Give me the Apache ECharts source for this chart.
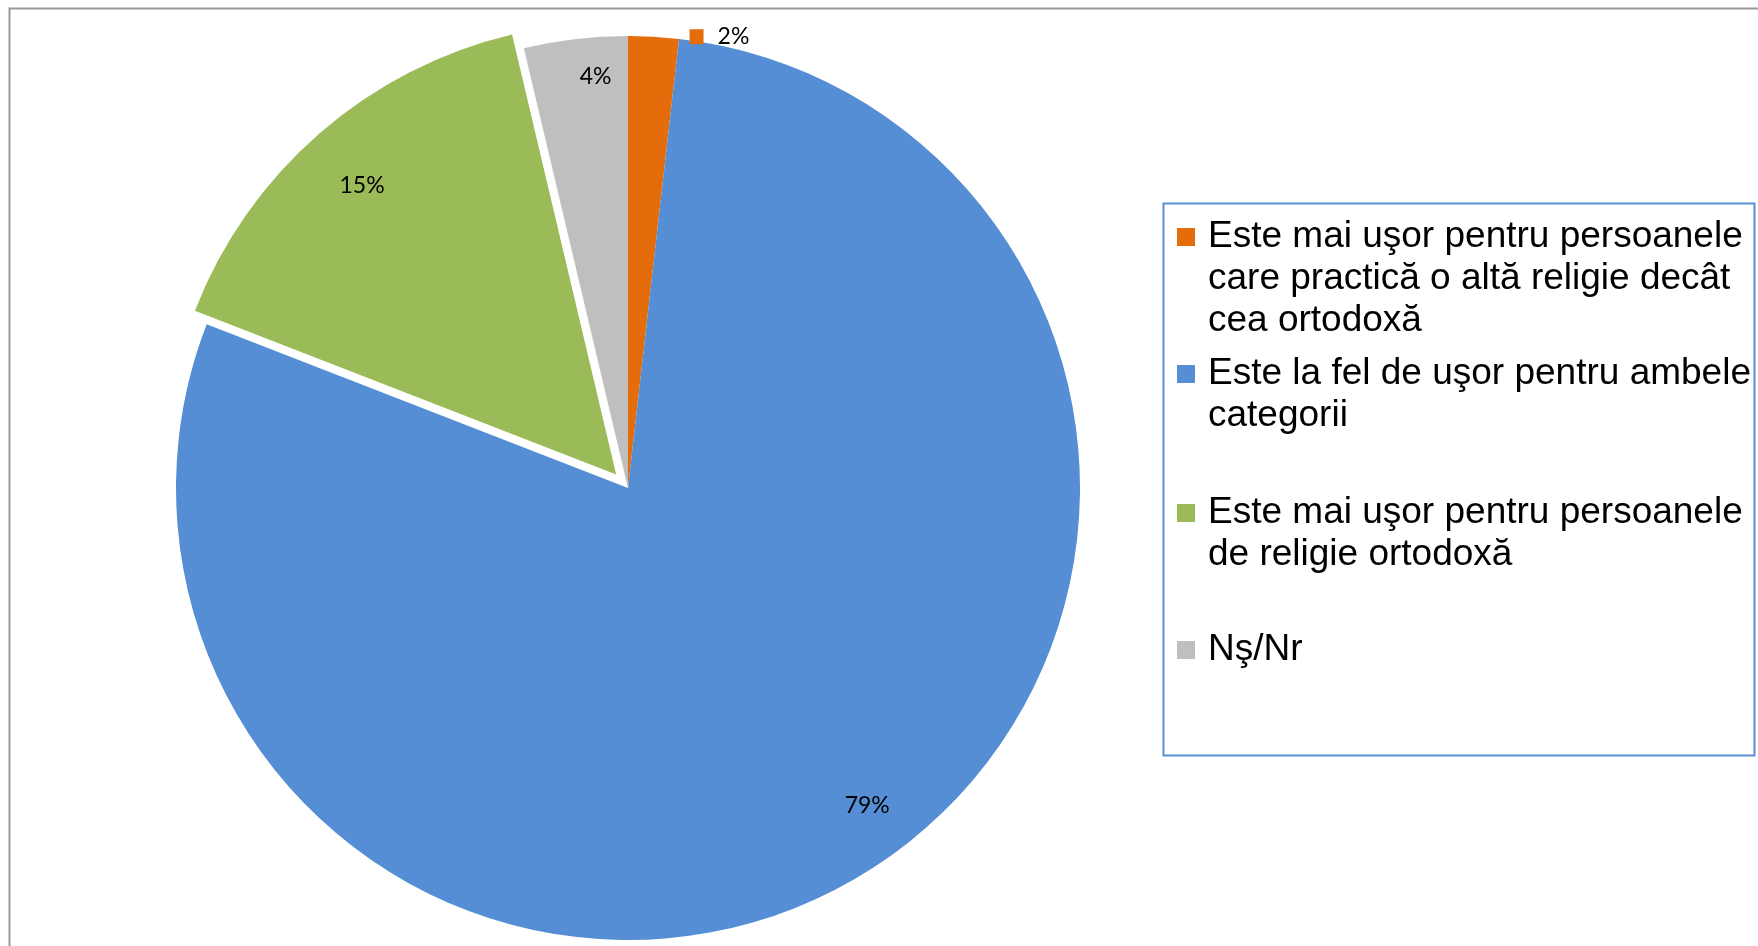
<!DOCTYPE html>
<html><head><meta charset="utf-8">
<script src="https://cdn.jsdelivr.net/npm/echarts@6/dist/echarts.min.js"></script>
<style>html,body{margin:0;padding:0;background:#fff}#c{width:1758px;height:946px}</style>
</head><body><div id="c"></div>
<script>
const categories = [
  'Este mai uşor pentru persoanele care practică o altă religie decât cea ortodoxă',
  'Este la fel de uşor pentru ambele categorii',
  'Este mai uşor pentru persoanele de religie ortodoxă',
  'Nş/Nr'
];
const legendLines = [
  ['Este mai uşor pentru persoanele', 'care practică o altă religie decât', 'cea ortodoxă'],
  ['Este la fel de uşor pentru ambele', 'categorii'],
  ['Este mai uşor pentru persoanele', 'de religie ortodoxă'],
  ['Nş/Nr']
];
const values = [1.8, 79.1, 15.4, 3.7];
const explodedIndex = 2;

const colors = ['#E46C0A', '#558ED5', '#9BBB59', '#BFBFBF'];
const CX = 628, CY = 488, R = 452;
const LH = 42;
const legendFirstLineY = [237, 374, 513, 650];
const labelNudge = [[0, 0], [32, -25], [9, 13], [14, -13]];

const pct = p => Math.round(p.percent) + '%';
const labelFont = { fontFamily: 'Lato', fontSize: 23, color: '#000' };

const chart = echarts.init(document.getElementById('c'), null, { renderer: 'canvas' });
chart.setOption({
  animation: false,
  backgroundColor: '#fff',
  graphic: [
    { type: 'rect', shape: { x: 9.5, y: 8.5, width: 1800, height: 1000 }, style: { fill: 'none', stroke: '#999', lineWidth: 2 }, silent: true },
    { type: 'rect', shape: { x: 1163.5, y: 203.5, width: 591, height: 552 }, style: { fill: 'none', stroke: '#5B8ED6', lineWidth: 2 }, silent: true }
  ],
  legend: legendLines.map((lines, i) => ({
    orient: 'vertical',
    left: 1177,
    top: legendFirstLineY[i] - (2 * lines.length - 1) * LH / 2,
    padding: 0,
    selectedMode: false,
    icon: 'rect',
    itemWidth: 18,
    itemHeight: 18,
    data: [categories[i]],
    // leading empty lines keep the icon level with the first text line
    formatter: () => '\n'.repeat(lines.length - 1) + lines.join('\n'),
    textStyle: { fontFamily: 'Liberation Sans', fontSize: 37, lineHeight: LH, color: '#000', padding: [0, 0, 0, 8] }
  })),
  series: [
    {
      type: 'pie',
      center: [CX, CY],
      radius: R,
      startAngle: 90,
      clockwise: true,
      selectedMode: 'single',
      selectedOffset: 18,
      avoidLabelOverlap: false,
      emphasis: { disabled: true },
      itemStyle: { borderWidth: 0 },
      label: { show: false },
      labelLine: { show: false, length: 0, length2: 31 },
      data: categories.map((name, i) => ({
        name, value: values[i], selected: i === explodedIndex,
        itemStyle: { color: colors[i] },
        label: i === 0 ? {
          show: true, position: 'outside',
          formatter: p => '{sq|}{t|' + pct(p) + '}',
          rich: {
            sq: { width: 14, height: 15, backgroundColor: colors[0] },
            t: Object.assign({ padding: [0, 0, 0, 14] }, labelFont)
          }
        } : { show: false }
      }))
    },
    {
      type: 'pie',
      center: [CX, CY],
      radius: [R * 0.76, R],
      startAngle: 90,
      clockwise: true,
      silent: true,
      legendHoverLink: false,
      selectedMode: 'single',
      selectedOffset: 18,
      avoidLabelOverlap: false,
      emphasis: { disabled: true },
      itemStyle: { color: 'rgba(0,0,0,0)', borderWidth: 0 },
      labelLine: { show: false },
      label: Object.assign({ show: true, position: 'inside', formatter: pct }, labelFont),
      data: categories.map((name, i) => ({
        name, value: values[i], selected: i === explodedIndex,
        label: { show: i !== 0, offset: labelNudge[i] },
        select: { label: { show: i !== 0, offset: labelNudge[i] } }
      }))
    }
  ]
});
</script>
</body></html>
